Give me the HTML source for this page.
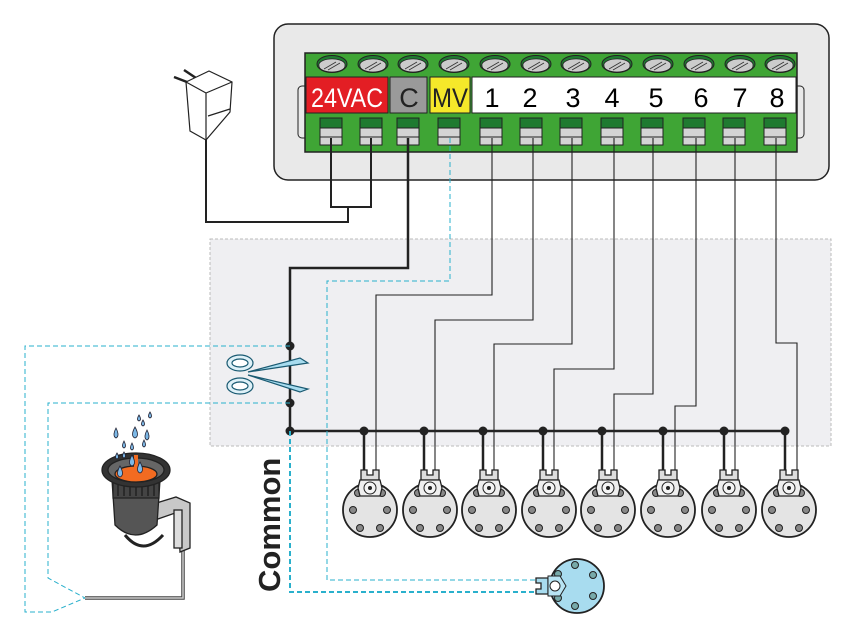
<!DOCTYPE html>
<html><head><meta charset="utf-8"><style>
html,body{margin:0;padding:0;background:#fff;width:865px;height:624px;overflow:hidden}
svg{display:block}
text{font-family:"Liberation Sans",sans-serif}
</style></head><body>
<svg width="865" height="624" viewBox="0 0 865 624" xmlns="http://www.w3.org/2000/svg">
<defs>
<g id="valve">
  <circle cx="0" cy="0" r="27" fill="#e4e4e4" stroke="#222" stroke-width="1.8"/>
  <g fill="#888" stroke="#222" stroke-width="1">
    <circle cx="-17" cy="0" r="3.5"/><circle cx="17" cy="0" r="3.5"/>
    <circle cx="-10" cy="18" r="3.5"/><circle cx="10" cy="18" r="3.5"/>
    <circle cx="-12" cy="-17" r="3.5"/><circle cx="12" cy="-17" r="3.5"/>
  </g>
  <path d="M-9,-40 h6 v5 h6 v-5 h6 v10 h-18z" fill="#ddd" stroke="#222" stroke-width="1.3"/>
  <polygon points="-10,-30 10,-30 12,-22 10,-14 -10,-14 -12,-22" fill="#eee" stroke="#222" stroke-width="1.3"/>
  <circle cx="0" cy="-22" r="6" fill="#f4f4f4" stroke="#222" stroke-width="1"/>
  <circle cx="0" cy="-22" r="2" fill="#222"/>
</g>
<g id="screw">
  <ellipse cx="0" cy="0" rx="15" ry="8.5" fill="#1f7a30" stroke="#222" stroke-width="1"/>
  <path d="M-13,2 A13,6 0 0,0 13,2 L13,0 A13,6 0 0,0 -13,2Z" fill="#ccc" stroke="#222" stroke-width="0.8"/>
  <path d="M-4,6 L8,-1 M-8,5 L4,-2" stroke="#333" stroke-width="0.8"/>
</g>
<g id="term">
  <rect x="-11" y="0" width="22" height="10" fill="#1f7a30" stroke="#222"/>
  <rect x="-11" y="10" width="22" height="17" fill="#d4d4d4" stroke="#222"/>
  <line x1="-11" y1="19" x2="11" y2="19" stroke="#222"/>
</g>
</defs>

<!-- controller box -->
<rect x="274" y="24" width="555" height="156" rx="14" fill="#e9e9e9" stroke="#222" stroke-width="1.5"/>
<rect x="298" y="86" width="12" height="52" rx="4" fill="#e9e9e9" stroke="#222"/>
<rect x="792" y="86" width="12" height="52" rx="4" fill="#e9e9e9" stroke="#222"/>
<rect x="305" y="53" width="492" height="99" fill="#3fa535" stroke="#222" stroke-width="1.5"/>
<rect x="306" y="77" width="82" height="36" fill="#e31e24" stroke="#222"/>
<rect x="390" y="77" width="37" height="36" fill="#9a9a9a" stroke="#222"/>
<rect x="430" y="77" width="40" height="36" fill="#f5e82a" stroke="#222"/>
<rect x="472" y="77" width="324" height="36" fill="#fff" stroke="#222"/>
<g font-size="27" text-anchor="middle">
<text x="347" y="107" fill="#fff" textLength="72" lengthAdjust="spacingAndGlyphs">24VAC</text>
<text x="409" y="107" fill="#222">C</text>
<text x="450" y="107" fill="#222" textLength="36" lengthAdjust="spacingAndGlyphs">MV</text>
<text x="492" y="107">1</text><text x="530" y="107">2</text><text x="573" y="107">3</text>
<text x="612" y="107">4</text><text x="656" y="107">5</text><text x="701" y="107">6</text>
<text x="740" y="107">7</text><text x="777" y="107">8</text>
</g>
<use href="#screw" x="332" y="64"/><use href="#screw" x="373" y="64"/><use href="#screw" x="413" y="64"/><use href="#screw" x="454" y="64"/><use href="#screw" x="495" y="64"/><use href="#screw" x="536" y="64"/><use href="#screw" x="576" y="64"/><use href="#screw" x="617" y="64"/><use href="#screw" x="658" y="64"/><use href="#screw" x="699" y="64"/><use href="#screw" x="740" y="64"/><use href="#screw" x="780" y="64"/>
<use href="#term" x="331" y="118"/><use href="#term" x="371" y="118"/><use href="#term" x="408" y="118"/><use href="#term" x="449" y="118"/><use href="#term" x="491" y="118"/><use href="#term" x="531" y="118"/><use href="#term" x="571" y="118"/><use href="#term" x="612" y="118"/><use href="#term" x="652" y="118"/><use href="#term" x="694" y="118"/><use href="#term" x="734" y="118"/><use href="#term" x="775" y="118"/>

<!-- gray zone -->
<rect x="210" y="239" width="621" height="207" fill="#efeff2" stroke="#bbb" stroke-dasharray="3,2"/>

<!-- power -->
<g fill="none" stroke="#222" stroke-width="2">
<path d="M331,138 V207 H371 V138"/>
<path d="M348,207 V222 H206 V137"/>
<path d="M408,138 V268 H290 V431 H786" stroke-width="2.5"/>
</g>
<!-- plug -->
<g stroke="#222" stroke-width="1.2" fill="#fff">
<path d="M187,82 L174,77 M196,78 L184,70" stroke-width="2.5"/>
<polygon points="186,82 209,71 232,82 230,112 206,140 190,131"/>
<path d="M186,82 L206,93 L232,82 M206,93 V140 M208,116 L230,109" fill="none"/>
</g>

<!-- zone wires -->
<g fill="none" stroke="#222" stroke-width="1.1">
<path d="M492,138 V295 H376 V488"/>
<path d="M533,138 V320 H435 V488"/>
<path d="M572,138 V344 H494 V488"/>
<path d="M614,138 V369 H554 V488"/>
<path d="M653,138 V394 H614 V488"/>
<path d="M696,138 V406 H675 V488"/>
<path d="M735,138 V488"/>
<path d="M776,138 V343 H797 V488"/>
</g>
<g stroke="#222" stroke-width="2.5">
<path d="M364,431 V488 M424,431 V488 M483,431 V488 M543,431 V488 M602,431 V488 M663,431 V488 M724,431 V488 M785,431 V488"/>
</g>
<g fill="#222">
<circle cx="290" cy="346" r="4.5"/><circle cx="290" cy="403" r="4.5"/><circle cx="290" cy="431" r="4.5"/>
<circle cx="364" cy="431" r="4.5"/><circle cx="424" cy="431" r="4.5"/><circle cx="483" cy="431" r="4.5"/><circle cx="543" cy="431" r="4.5"/><circle cx="602" cy="431" r="4.5"/><circle cx="663" cy="431" r="4.5"/><circle cx="724" cy="431" r="4.5"/><circle cx="785" cy="431" r="4.5"/>
</g>

<!-- valves -->
<use href="#valve" x="370" y="510"/><use href="#valve" x="430" y="510"/><use href="#valve" x="489" y="510"/><use href="#valve" x="549" y="510"/><use href="#valve" x="608" y="510"/><use href="#valve" x="668" y="510"/><use href="#valve" x="729" y="510"/><use href="#valve" x="789" y="510"/>

<!-- blue dashed -->
<g fill="none" stroke="#2ab0cc" stroke-dasharray="5,3">
<path d="M450,138 V281 H327 V580 H545" stroke-width="1"/>
<path d="M290,431 V592 H545" stroke-width="2"/>
<path d="M290,346 H25 V612 H52 L85,598" stroke-width="1"/>
<path d="M290,403 H48 V578 L85,598" stroke-width="1"/>
</g>
<!-- master valve -->
<g>
<circle cx="577" cy="586" r="27" fill="#a8dcef" stroke="#222" stroke-width="1.8"/>
<g fill="#7aa" stroke="#222"><circle cx="575" cy="565" r="3.5"/><circle cx="593" cy="575" r="3.5"/><circle cx="593" cy="596" r="3.5"/><circle cx="575" cy="606" r="3.5"/><circle cx="558" cy="574" r="3.5"/><circle cx="558" cy="598" r="3.5"/></g>
<path d="M536,578 h12 v16 h-12 v-5 h5 v-6 h-5z" fill="#a8dcef" stroke="#222" stroke-width="1.3"/>
<polygon points="548,576 560,576 566,586 560,596 548,596" fill="#b8e4f3" stroke="#222"/>
<circle cx="555" cy="586" r="5" fill="#fff" stroke="#222"/>
</g>

<!-- scissors -->
<g stroke="#1a5a72" stroke-width="1.2" fill="#a8dcef">
<path d="M248,372 L308,363 L300,358 Z"/>
<path d="M248,375 L308,389 L300,392 Z"/>
<ellipse cx="240" cy="363" rx="13" ry="8" fill="#dff1f8"/>
<ellipse cx="240" cy="386" rx="13" ry="8" fill="#dff1f8"/>
<ellipse cx="240" cy="363" rx="8" ry="4" fill="#fff"/>
<ellipse cx="240" cy="386" rx="8" ry="4" fill="#fff"/>
</g>

<!-- sprinkler -->
<g stroke="#222" stroke-width="1.3">
<path d="M85,598 H183 V510" fill="none" stroke="#444" stroke-width="3.5"/>
<path d="M85,598 H183 V510" fill="none" stroke="#ccc" stroke-width="1.5"/>
<polygon points="150,505 176,497 190,503 190,548 180,552 178,512 155,520" fill="#c8c8c8"/>
<rect x="174" y="510" width="8" height="38" fill="#ddd"/>
<path d="M125,535 q18,22 38,0" fill="none" stroke-width="3"/>
<path d="M112,480 L160,480 L157,525 Q135,545 115,525 Z" fill="#555"/>
<rect x="113" y="482" width="46" height="16" fill="#444"/>
<g stroke="#111" stroke-width="1"><path d="M118,484 v12 M124,484 v12 M130,484 v12 M136,484 v12 M142,484 v12 M148,484 v12 M154,484 v12"/></g>
<ellipse cx="136" cy="470" rx="34" ry="17" fill="#333"/>
<ellipse cx="136" cy="470" rx="28" ry="12" fill="#666"/>
<ellipse cx="136" cy="474" rx="21" ry="8" fill="#f26b21"/>
<path d="M136,474 V455" stroke="#f26b21" stroke-width="4"/>
</g>
<g fill="#7cb8e6" stroke="#223" stroke-width="0.8">
<path d="M132,455 q-5,9 0,11 q5,-2 0,-11z"/><path d="M140,462 q-5,9 0,11 q5,-2 0,-11z"/>
<path d="M120,466 q-5,9 0,11 q5,-2 0,-11z"/><path d="M135,427 q-5,9 0,11 q5,-2 0,-11z"/>
<path d="M116,428 q-4,8 0,10 q4,-2 0,-10z"/><path d="M147,430 q-4,8 0,10 q4,-2 0,-10z"/>
<path d="M124,441 q-3,6 0,7 q3,-1 0,-7z"/><path d="M132,443 q-3,6 0,7 q3,-1 0,-7z"/>
<path d="M144,440 q-3,6 0,7 q3,-1 0,-7z"/><path d="M139,415 q-3,5 0,6 q3,-1 0,-6z"/>
<path d="M150,412 q-3,5 0,6 q3,-1 0,-6z"/><path d="M143,420 q-3,5 0,6 q3,-1 0,-6z"/>
<path d="M117,453 q-3,5 0,6 q3,-1 0,-6z"/><path d="M124,452 q-3,5 0,6 q3,-1 0,-6z"/>
</g>

<!-- Common label -->
<text x="0" y="0" transform="translate(280,592) rotate(-90)" font-size="31" font-weight="bold" fill="#222">Common</text>
</svg>
</body></html>
